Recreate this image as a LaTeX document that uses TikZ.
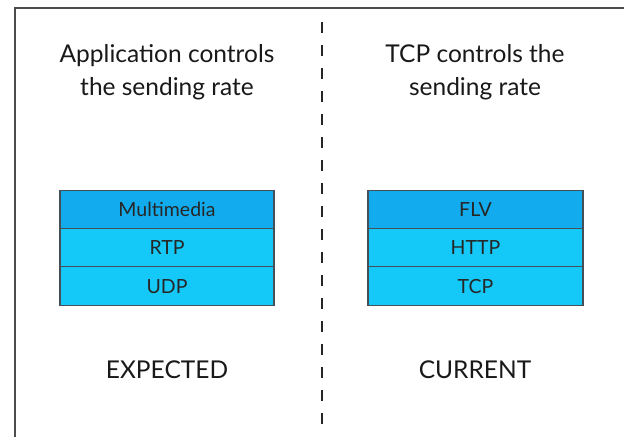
\documentclass[tikz,border=0pt]{standalone}
\usepackage{fontspec}
\setmainfont{Lato}
\begin{document}
\begin{tikzpicture}[x=1pt,y=-1pt,
  title/.style={font=\fontsize{24.5}{33}\selectfont, align=center, text=black!90},
  caption/.style={font=\fontsize{24.5}{28}\selectfont, text=black!90},
  layer/.style={draw=black!75!cyan, line width=1.3pt, minimum height=38.5pt, inner sep=0pt,
    font=\fontsize{19.5}{22}\selectfont, text=black!85, text height=14pt, text depth=0pt},
  toplayer/.style={layer, fill=topblue},
  lowlayer/.style={layer, fill=lowblue}]
\definecolor{topblue}{RGB}{18,172,238}
\definecolor{lowblue}{RGB}{20,200,248}
\useasboundingbox (0,0) rectangle (624,437);
\fill[white] (0,0) rectangle (624,437);
% frame
\coordinate (ftl) at (15,8);
\coordinate (ftr) at (624,8);
\coordinate (fbl) at (15,437);
\draw[black!70, line width=2pt] (ftr) -- (ftl) -- (fbl);
% divider
\coordinate (dtop) at (322,22);
\coordinate (dbot) at (322,426);
\draw[black!85, line width=2pt, dash pattern=on 11pt off 12pt] (dtop) -- (dbot);
% titles
\node[title] (tl) at (167,72) {Application controls\\the sending rate};
\node[title] (tr) at (475,72) {TCP controls the\\sending rate};
% left stack
\node[toplayer, minimum width=214pt] (multi) at (167,209.5) {Multimedia};
\node[lowlayer, minimum width=214pt] (rtp) at (167,247.75) {RTP};
\node[lowlayer, minimum width=214pt] (udp) at (167,286) {UDP};
% right stack
\node[toplayer, minimum width=215pt] (flv) at (475.5,209.5) {FLV};
\node[lowlayer, minimum width=215pt] (http) at (475.5,247.75) {HTTP};
\node[lowlayer, minimum width=215pt] (tcp) at (475.5,286) {TCP};
% captions
\node[caption] (exp) at (167,370) {EXPECTED};
\node[caption] (cur) at (475,370) {CURRENT};
\end{tikzpicture}
\end{document}
